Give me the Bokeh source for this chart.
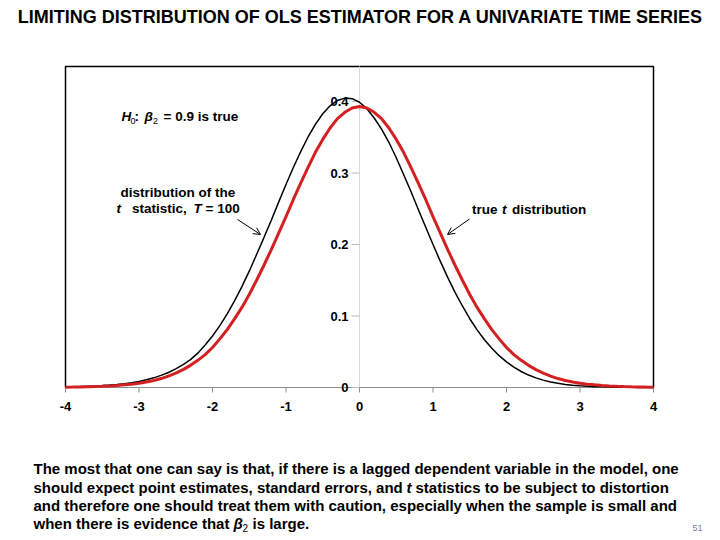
import math
from bokeh.plotting import figure
from bokeh.models import Label, Arrow, OpenHead, Range1d
from bokeh.core.properties import value
from bokeh.embed import file_html
from bokeh.resources import INLINE

# t values on the horizontal axis
t_values = [-4.0, -3.9, -3.8, -3.7, -3.6, -3.5, -3.4, -3.3, -3.2, -3.1,
            -3.0, -2.9, -2.8, -2.7, -2.6, -2.5, -2.4, -2.3, -2.2, -2.1,
            -2.0, -1.9, -1.8, -1.7, -1.6, -1.5, -1.4, -1.3, -1.2, -1.1,
            -1.0, -0.9, -0.8, -0.7, -0.6, -0.5, -0.4, -0.3, -0.2, -0.1,
            0.0, 0.1, 0.2, 0.3, 0.4, 0.5, 0.6, 0.7, 0.8, 0.9,
            1.0, 1.1, 1.2, 1.3, 1.4, 1.5, 1.6, 1.7, 1.8, 1.9,
            2.0, 2.1, 2.2, 2.3, 2.4, 2.5, 2.6, 2.7, 2.8, 2.9,
            3.0, 3.1, 3.2, 3.3, 3.4, 3.5, 3.6, 3.7, 3.8, 3.9, 4.0]

# density of the t statistic when T = 100 (black)
sample_density = [0.0008, 0.0010, 0.0013, 0.0017, 0.0021, 0.0027, 0.0034, 0.0043, 0.0054, 0.0068,
                  0.0085, 0.0108, 0.0135, 0.0170, 0.0210, 0.0260, 0.0320, 0.0390, 0.0480, 0.0594,
                  0.0720, 0.0866, 0.1030, 0.1212, 0.1410, 0.1627, 0.1860, 0.2097, 0.2340, 0.2593,
                  0.2840, 0.3077, 0.3300, 0.3504, 0.3680, 0.3829, 0.3940, 0.4015, 0.4048, 0.4040,
                  0.3990, 0.3900, 0.3770, 0.3614, 0.3430, 0.3213, 0.2980, 0.2741, 0.2490, 0.2245,
                  0.2000, 0.1764, 0.1540, 0.1330, 0.1140, 0.0962, 0.0806, 0.0668, 0.0548, 0.0445,
                  0.0358, 0.0284, 0.0224, 0.0174, 0.0135, 0.0103, 0.0078, 0.0058, 0.0043, 0.0031,
                  0.0023, 0.0016, 0.0012, 0.0009, 0.0006, 0.0004, 0.0003, 0.0002, 0.0001, 0.0001, 0.0001]

# true t distribution (red)
true_t_density = [0.0005, 0.0006, 0.0008, 0.0010, 0.0013, 0.0017, 0.0022, 0.0029, 0.0037, 0.0047,
                  0.0060, 0.0077, 0.0098, 0.0125, 0.0160, 0.0200, 0.0250, 0.0310, 0.0380, 0.0460,
                  0.0560, 0.0680, 0.0810, 0.0960, 0.1120, 0.1300, 0.1500, 0.1710, 0.1930, 0.2160,
                  0.2390, 0.2630, 0.2860, 0.3080, 0.3290, 0.3470, 0.3630, 0.3760, 0.3850, 0.3910,
                  0.3930, 0.3910, 0.3850, 0.3760, 0.3630, 0.3470, 0.3290, 0.3080, 0.2860, 0.2630,
                  0.2390, 0.2160, 0.1930, 0.1710, 0.1500, 0.1300, 0.1120, 0.0960, 0.0810, 0.0680,
                  0.0560, 0.0460, 0.0380, 0.0310, 0.0250, 0.0200, 0.0160, 0.0125, 0.0098, 0.0077,
                  0.0060, 0.0047, 0.0037, 0.0029, 0.0022, 0.0017, 0.0013, 0.0010, 0.0008, 0.0006, 0.0005]

x_ticks = [-4, -3, -2, -1, 0, 1, 2, 3, 4]
x_tick_labels = ["-4", "-3", "-2", "-1", "0", "1", "2", "3", "4"]
y_ticks = [0, 0.1, 0.2, 0.3, 0.4]
y_tick_labels = ["0", "0.1", "0.2", "0.3", "0.4"]

X0, X1, Y0, Y1 = -4.0, 4.0, 0.0, 0.449
FONT = "Liberation Sans"

# where the chart box sits on the 720x540 slide
W, H = 720, 540
B_LEFT, B_RIGHT, B_TOP, B_BOTTOM = 65, 653, 66, 387
SX = (B_RIGHT - B_LEFT) / (X1 - X0)
SY = (B_BOTTOM - B_TOP) / (Y1 - Y0)


def dx(px):
    return X0 + (px - B_LEFT) / SX


def dy(py):
    return Y0 + (B_BOTTOM - py) / SY


# the plotting frame covers the whole slide so that every text can live in it
p = figure(width=W, height=H,
           x_range=Range1d(dx(0), dx(W)), y_range=Range1d(dy(H), dy(0)),
           x_axis_type=None, y_axis_type=None,
           output_backend="svg", toolbar_location=None,
           min_border=0, background_fill_color="white", border_fill_color="white",
           outline_line_color=None)
p.xgrid.visible = False
p.ygrid.visible = False

# chart box: black on three sides, the t axis closes it at the bottom
p.line([X0, X0, X1, X1], [Y0, Y1, Y1, Y0], line_color="black", line_width=1.5)

# horizontal axis
p.segment(x0=X0, y0=0, x1=X1, y1=0, line_color="#8c8c8c", line_width=1.2)
p.ray(x=x_ticks, y=[0] * len(x_ticks), length=5, length_units="screen",
      angle=-math.pi / 2, line_color="#8c8c8c", line_width=1)
p.text(x=x_ticks, y=[0] * len(x_ticks), text=x_tick_labels, y_offset=19,
       text_font=value(FONT), text_font_style="bold", text_font_size="13px",
       text_align="center", text_baseline="middle", text_color="black")

# vertical axis through t = 0
p.segment(x0=0, y0=Y0, x1=0, y1=Y1, line_color="#d9d9d9", line_width=1)
p.ray(x=[0] * len(y_ticks), y=y_ticks, length=8, length_units="screen",
      angle=math.pi, line_color="#bdbdbd", line_width=1)
p.text(x=[0] * len(y_ticks), y=y_ticks, text=y_tick_labels, x_offset=-11,
       text_font=value(FONT), text_font_style="bold", text_font_size="13px",
       text_align="right", text_baseline="middle", text_color="black")

# curves
p.line(t_values, sample_density, line_color="black", line_width=1.5)
p.line(t_values, true_t_density, line_color="#d42020", line_width=3)


def txt(px, py, text, size="13.5px", style="bold", align="left", color="black"):
    p.add_layout(Label(x=dx(px), y=dy(py), text=text, text_font=FONT,
                       text_font_size=size, text_font_style=style, text_color=color,
                       text_align=align, text_baseline="middle"))


# title
txt(360, 16, "LIMITING DISTRIBUTION OF OLS ESTIMATOR FOR A UNIVARIATE TIME SERIES",
    size="18px", align="center")

# hypothesis
txt(121, 116, "H", style="bold italic")
txt(130, 120, "0", size="9px", style="normal")
txt(134, 116, ":")
txt(144, 116, "\u03b2", style="bold italic")
txt(152.5, 120, "2", size="9px", style="normal")
txt(163, 116, "= 0.9 is true")

# label for the sampling distribution
txt(120, 192, "distribution of the")
txt(116, 208, "t", style="bold italic")
txt(131.5, 208, "statistic,")
txt(193, 208, "T", style="bold italic")
txt(205, 208, "= 100")

# label for the true distribution
txt(471.5, 209, "true")
txt(501.5, 209, "t", style="bold italic")
txt(511.5, 209, "distribution")

# pointers
p.add_layout(Arrow(x_start=dx(237), y_start=dy(219), x_end=dx(260), y_end=dy(234),
                   line_color="black", line_width=1,
                   end=OpenHead(size=7, line_color="black", line_width=1)))
p.add_layout(Arrow(x_start=dx(469), y_start=dy(218.5), x_end=dx(447), y_end=dy(234),
                   line_color="black", line_width=1,
                   end=OpenHead(size=7, line_color="black", line_width=1)))

# commentary below the chart
PS = "15px"
txt(33, 468, "The most that one can say is that, if there is a lagged dependent variable in the model, one", size=PS)
txt(33, 487, "should expect point estimates, standard errors, and", size=PS)
txt(406, 487, "t", size=PS, style="bold italic")
txt(415, 487, "statistics to be subject to distortion", size=PS)
txt(33, 505, "and therefore one should treat them with caution, especially when the sample is small and", size=PS)
txt(33, 523, "when there is evidence that", size=PS)
txt(233, 523, "\u03b2", size=PS, style="bold italic")
txt(242, 527, "2", size="10px", style="normal")
txt(252, 523, "is large.", size=PS)

# slide number
txt(697, 527, "51", size="9px", style="normal", align="center", color="#6f7fa3")

open("out.html", "w").write(file_html(p, INLINE))
